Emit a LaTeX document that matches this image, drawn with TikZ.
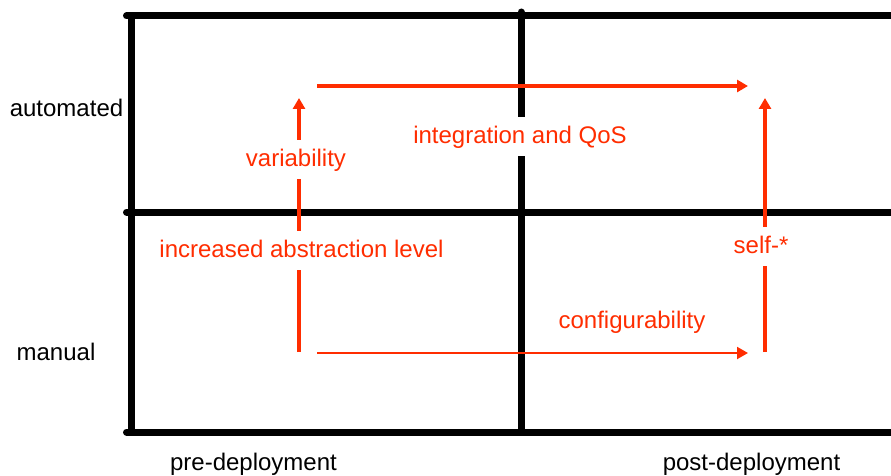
\documentclass[tikz,border=0pt]{standalone}
\usepackage{fontspec}
\setmainfont{Liberation Sans}
\usetikzlibrary{arrows.meta}
\definecolor{flowred}{RGB}{255,45,0}
\tikzset{
  gridline/.style={line width=7pt},
  flow/.style={draw=flowred,line width=4pt,-{Triangle[length=11pt,width=12pt]}},
  thinflow/.style={flow,line width=2pt},
  axislabel/.style={font=\fontsize{24}{28}\selectfont,text height=18pt,text depth=5pt,inner sep=0pt},
  flowlabel/.style={axislabel,text=flowred,fill=white,inner xsep=2pt,inner ysep=8pt}
}
\begin{document}
\begin{tikzpicture}[x=1pt,y=-1pt]
            \useasboundingbox (0,0) rectangle (891,476);
            \draw[gridline,line cap=round] (126.5,16) -- (891,16);
            \draw[gridline,line cap=round] (126.5,212) -- (891,212);
            \draw[gridline,line cap=round] (126.5,432) -- (891,432);
            \draw[gridline] (131,16) -- (131,432);
            \draw[gridline,line cap=round] (521,12) -- (521,430);
            \coordinate (varbot) at (299,352);
            \coordinate (vartop) at (299,98);
            \coordinate (qosstart) at (317,86);
            \coordinate (qosend) at (748,86);
            \coordinate (selfbot) at (765,352);
            \coordinate (selftop) at (765,98);
            \coordinate (cfgstart) at (317,353);
            \coordinate (cfgend) at (748,353);
            \draw[flow] (varbot) -- (vartop);
            \draw[flow] (qosstart) -- (qosend);
            \draw[flow] (selfbot) -- (selftop);
            \draw[thinflow] (cfgstart) -- (cfgend);
            \node[axislabel] (auto) at (66.5,110) {automated};
            \node[axislabel] (man) at (56,354) {manual};
            \node[axislabel] (pre) at (253.5,463.5) {pre-deployment};
            \node[axislabel] (post) at (751.5,463.5) {post-deployment};
            \node[flowlabel] (var) at (296,159.5) {variability};
            \node[flowlabel] (qos) at (520,136.5) {integration and QoS};
            \node[flowlabel] (abs) at (301.5,250.5) {increased abstraction level};
            \node[flowlabel] (self) at (761,246.5) {self-*};
            \node[flowlabel] (cfg) at (632,321.5) {configurability};
        \end{tikzpicture}
\end{document}
